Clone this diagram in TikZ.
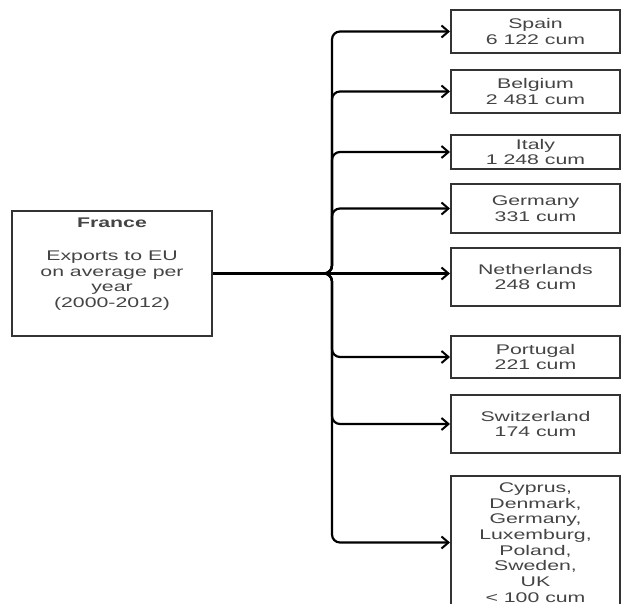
\documentclass[tikz,border=0pt]{standalone}
\usepackage{fontspec}
\setmainfont{Liberation Sans}[FakeStretch=1.52]
\usetikzlibrary{arrows.meta}
\definecolor{boxgray}{HTML}{333333}
\definecolor{textgray}{HTML}{444444}
\tikzset{
  country/.style={draw=boxgray, line width=2pt, minimum width=169pt, align=center, inner sep=0pt, text=textgray, font=\fontsize{14}{15.7}\selectfont},
  link/.style={-{Straight Barb[length=7pt,width=12pt,line width=2pt]}, line width=2.2pt, rounded corners=8pt}
}
\begin{document}
\begin{tikzpicture}[x=1pt, y=-1pt]
\useasboundingbox (0,0) rectangle (621,604);
\clip (0,0) rectangle (621,604);
\node[country, minimum width=200pt, minimum height=125pt,
  label={[anchor=north, yshift=-7.5pt, align=center, inner sep=0pt, text=textgray, font=\fontsize{14}{15.7}\selectfont]north:{\textbf{France}\\[17.3pt]Exports to EU\\on average per\\year\\(2000-2012)}}] (france) at (112,273.5) {};
\node[country, minimum height=43pt] (spain) at (535.5,31.5) {Spain\\6 122 cum};
\node[country, minimum height=43pt] (belgium) at (535.5,91.5) {Belgium\\2 481 cum};
\node[country, minimum height=34pt] (italy) at (535.5,152) {Italy\\1 248 cum};
\node[country, minimum height=49pt] (germany) at (535.5,208.5) {Germany\\331 cum};
\node[country, minimum height=58pt] (netherlands) at (535.5,277) {Netherlands\\248 cum};
\node[country, minimum height=42pt] (portugal) at (535.5,357) {Portugal\\221 cum};
\node[country, minimum height=58pt] (switzerland) at (535.5,424) {Switzerland\\174 cum};
\node[country, minimum height=133pt] (others) at (535.5,542.5) {Cyprus,\\Denmark,\\Germany,\\Luxemburg,\\Poland,\\Sweden,\\UK\\< 100 cum};
\coordinate (trunk) at (332,0);
\draw[link] (france.east) -- (france.east -| trunk) |- (spain.west);
\draw[link] (france.east) -- (france.east -| trunk) |- (belgium.west);
\draw[link] (france.east) -- (france.east -| trunk) |- (italy.west);
\draw[link] (france.east) -- (france.east -| trunk) |- (germany.west);
\draw[link] (france.east) -- (france.east -| netherlands.west);
\draw[link] (france.east) -- (france.east -| trunk) |- (portugal.west);
\draw[link] (france.east) -- (france.east -| trunk) |- (switzerland.west);
\draw[link] (france.east) -- (france.east -| trunk) |- (others.west);
\end{tikzpicture}
\end{document}
